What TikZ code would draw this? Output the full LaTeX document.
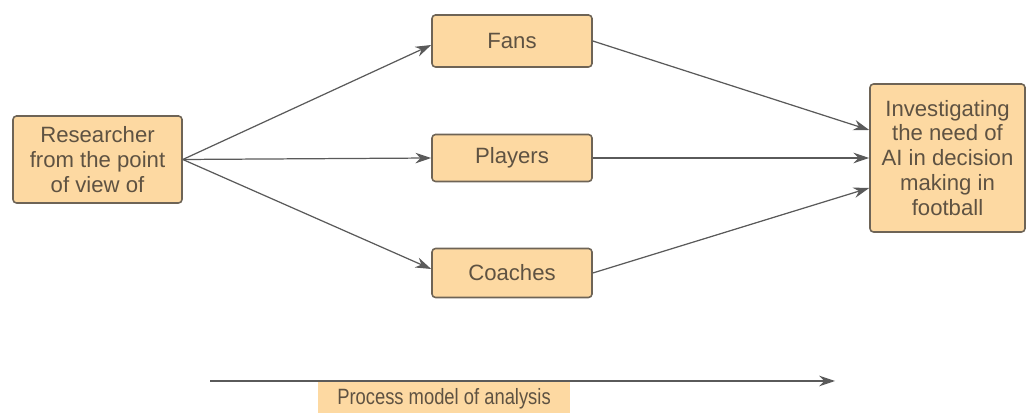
\documentclass[tikz,border=0pt]{standalone}
\usepackage{fontspec}
\setmainfont{Liberation Sans}
\usetikzlibrary{arrows.meta}
\definecolor{boxfill}{HTML}{FDD9A2}
\definecolor{boxline}{HTML}{6E6456}
\definecolor{boxtext}{HTML}{5E5242}
\definecolor{arrowline}{HTML}{5A5A5A}
\tikzset{
    stagebox/.style={draw=boxline, fill=boxfill, rounded corners=2pt, line width=0.9pt,
        text=boxtext, align=center, font=\fontsize{12.6}{14.2}\selectfont, inner sep=2pt},
    flow/.style={draw=arrowline, line width=0.7pt, -{Stealth[length=9pt, width=6pt]}}
}
\begin{document}
\begin{tikzpicture}
            \useasboundingbox (0, 0) rectangle (20.58, 8.26);
            \node[stagebox, minimum width=3.38cm, minimum height=1.74cm] (researcher) at (1.95, 5.07)
                {Researcher\\from the point\\of view of};
            \node[stagebox, minimum width=3.2cm, minimum height=1.04cm] (fans) at (10.24, 7.44) {Fans};
            \node[stagebox, minimum width=3.2cm, minimum height=0.94cm] (players) at (10.24, 5.1) {Players};
            \node[stagebox, minimum width=3.2cm, minimum height=0.98cm] (coaches) at (10.24, 2.8) {Coaches};
            \node[stagebox, minimum width=3.1cm, minimum height=2.96cm] (need) at (18.95, 5.1)
                {Investigating\\the need of\\AI in decision\\making in\\football};
            \draw[flow] (researcher.east) -- ([yshift=-0.08cm]fans.west);
            \draw[flow] (researcher.east) -- (players.west);
            \draw[flow] (researcher.east) -- ([yshift=0.08cm]coaches.west);
            \draw[flow] (fans.east) -- ([yshift=0.56cm]need.west);
            \draw[flow] (players.east) -- (need.west);
            \draw[flow] (coaches.east) -- ([yshift=-0.6cm]need.west);
            % process timeline
            \node[fill=boxfill, text=boxtext, font=\fontsize{12.6}{14.2}\selectfont,
                minimum width=5.04cm, minimum height=0.7cm, anchor=north] (process) at (8.88, 0.64)
                {\scalebox{0.83}[1]{Process model of analysis}};
            \coordinate (start) at (4.2, 0.64);
            \coordinate (finish) at (16.7, 0.64);
            \draw[flow] (start) -- (finish);
        \end{tikzpicture}
\end{document}
